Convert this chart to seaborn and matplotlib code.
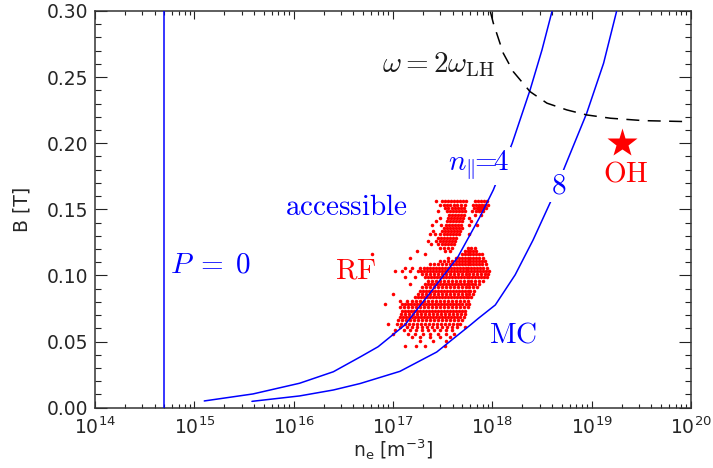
import numpy as np
import pandas as pd
import matplotlib
matplotlib.use("Agg")
import matplotlib.pyplot as plt
import seaborn as sns
from matplotlib.ticker import FixedLocator, MultipleLocator, LogLocator, NullFormatter

# ---- accessibility curves: log10(n_e [m^-3]) and B [T] ----
npar4_logn = [15.10, 15.59, 16.06, 16.40, 16.67, 16.85, 17.12, 17.37, 17.65, 17.88,
              18.01, 18.20, 18.38, 18.50, 18.60]
npar4_b = [0.0051, 0.0104, 0.0185, 0.0272, 0.0384, 0.0461, 0.0626, 0.0865, 0.1136, 0.1450,
           0.1647, 0.2000, 0.2403, 0.2706, 0.2995]

npar8_logn = [15.58, 16.06, 16.40, 16.67, 17.07, 17.44, 17.78, 17.86, 18.03, 18.23, 18.41,
              18.61, 18.73, 18.95, 19.12, 19.25]
npar8_b = [0.0048, 0.0089, 0.0134, 0.0183, 0.0275, 0.0421, 0.0626, 0.0676, 0.0777, 0.1005, 0.1268,
           0.1596, 0.1823, 0.2227, 0.2605, 0.2995]

# omega = 2 omega_LH boundary
lh_logn = [17.98, 18.01, 18.11, 18.21, 18.38, 18.55, 18.75, 18.95, 19.19, 19.52, 19.99]
lh_b = [0.2995, 0.2908, 0.2681, 0.2542, 0.2390, 0.2303, 0.2252, 0.2214, 0.2189, 0.2171, 0.2163]

# P = 0 cutoff density
p0_density = 5.0e14

# Ohmic operating point and the RF end point
oh_density, oh_b = 2.0e19, 0.200
rf_end_logn, rf_end_b = 17.89, 0.151

# ---- RF discharge samples, grouped by field value ----
rf_rows_b = [0.156, 0.1535, 0.151, 0.1485, 0.146, 0.1435, 0.141, 0.1385, 0.136, 0.1335,
             0.131, 0.1285, 0.126, 0.1235, 0.121, 0.1185, 0.116, 0.1135, 0.111, 0.1085,
             0.106, 0.1035, 0.101, 0.0985, 0.096, 0.0935, 0.091, 0.0885, 0.086, 0.0835,
             0.081, 0.0785, 0.076, 0.0735, 0.071, 0.0685, 0.066, 0.0635, 0.061, 0.0585,
             0.056, 0.0535, 0.0505, 0.047]
rf_rows_logn = [
    [17.43, 17.49, 17.52, 17.55, 17.58, 17.61, 17.64, 17.67, 17.70, 17.73, 17.83, 17.86, 17.89, 17.92, 17.95],
    [17.47, 17.51, 17.54, 17.57, 17.61, 17.64, 17.68, 17.72, 17.81, 17.84, 17.87, 17.90, 17.93, 17.96],
    [17.52, 17.55, 17.59, 17.62, 17.65, 17.68, 17.71, 17.82, 17.85, 17.88, 17.91, 17.94],
    [17.45, 17.54, 17.57, 17.60, 17.63, 17.66, 17.69, 17.72, 17.80, 17.84, 17.87, 17.91],
    [17.56, 17.59, 17.62, 17.65, 17.68, 17.71, 17.83, 17.89],
    [17.47, 17.55, 17.58, 17.61, 17.64, 17.67, 17.70, 17.77],
    [17.43, 17.54, 17.57, 17.60, 17.63, 17.66, 17.69, 17.79],
    [17.39, 17.48, 17.53, 17.56, 17.59, 17.62, 17.65, 17.68, 17.77, 17.85],
    [17.51, 17.54, 17.57, 17.60, 17.63, 17.66, 17.69],
    [17.40, 17.49, 17.52, 17.55, 17.58, 17.61, 17.64, 17.67],
    [17.37, 17.42, 17.47, 17.51, 17.54, 17.57, 17.60, 17.63, 17.66, 17.77],
    [17.45, 17.48, 17.51, 17.54, 17.57, 17.60, 17.63],
    [17.35, 17.43, 17.47, 17.50, 17.53, 17.56, 17.59, 17.62],
    [17.38, 17.45, 17.49, 17.52, 17.55, 17.58, 17.61],
    [17.47, 17.51, 17.55, 17.59, 17.75, 17.79, 17.83],
    [17.24, 17.52, 17.57, 17.72, 17.75, 17.78, 17.81, 17.84],
    [16.79, 17.32, 17.69, 17.72, 17.75, 17.78, 17.81, 17.84, 17.87, 17.90],
    [17.17, 17.55, 17.63, 17.66, 17.69, 17.72, 17.75, 17.78, 17.81, 17.84, 17.87, 17.91],
    [17.47, 17.51, 17.55, 17.59, 17.63, 17.66, 17.69, 17.72, 17.75, 17.78, 17.81, 17.84, 17.87, 17.90, 17.93],
    [17.37, 17.41, 17.45, 17.49, 17.53, 17.57, 17.60, 17.63, 17.66, 17.69, 17.72, 17.75, 17.78, 17.81,
     17.84, 17.87, 17.90, 17.94],
    [17.12, 17.19, 17.27, 17.31, 17.34, 17.37, 17.40, 17.43, 17.46, 17.49, 17.52, 17.55, 17.58, 17.61,
     17.64, 17.67, 17.70, 17.73, 17.76, 17.79, 17.82, 17.85, 17.88, 17.91, 17.95],
    [17.02, 17.09, 17.17, 17.25, 17.28, 17.31, 17.34, 17.37, 17.40, 17.43, 17.46, 17.49, 17.52, 17.55,
     17.58, 17.61, 17.64, 17.67, 17.70, 17.73, 17.76, 17.79, 17.82, 17.85, 17.88, 17.91, 17.94, 17.97],
    [17.29, 17.33, 17.37, 17.41, 17.45, 17.49, 17.53, 17.57, 17.61, 17.65, 17.69, 17.73, 17.77, 17.81,
     17.85, 17.89, 17.93, 17.96],
    [17.12, 17.22, 17.32, 17.35, 17.38, 17.41, 17.44, 17.47, 17.50, 17.53, 17.56, 17.59, 17.62, 17.65,
     17.68, 17.71, 17.74, 17.77, 17.80, 17.83, 17.86, 17.89, 17.92, 17.95],
    [17.35, 17.39, 17.43, 17.47, 17.51, 17.55, 17.59, 17.63, 17.67, 17.71, 17.75, 17.79, 17.83, 17.87, 17.91],
    [17.17, 17.32, 17.35, 17.38, 17.41, 17.44, 17.47, 17.50, 17.53, 17.56, 17.59, 17.62, 17.65, 17.68,
     17.71, 17.74, 17.77, 17.80, 17.83, 17.87],
    [17.29, 17.33, 17.37, 17.41, 17.45, 17.49, 17.53, 17.57, 17.61, 17.65, 17.69, 17.73, 17.77, 17.81, 17.85],
    [17.27, 17.30, 17.33, 17.36, 17.39, 17.42, 17.45, 17.48, 17.51, 17.54, 17.57, 17.60, 17.63, 17.66,
     17.69, 17.72, 17.75, 17.78, 17.82],
    [17.00, 17.25, 17.29, 17.33, 17.37, 17.41, 17.45, 17.49, 17.53, 17.57, 17.61, 17.65, 17.69, 17.73,
     17.77, 17.81],
    [17.22, 17.25, 17.28, 17.31, 17.34, 17.37, 17.40, 17.43, 17.46, 17.49, 17.52, 17.55, 17.58, 17.61,
     17.64, 17.67, 17.70, 17.73, 17.76, 17.79],
    [17.07, 17.14, 17.19, 17.23, 17.27, 17.31, 17.35, 17.39, 17.43, 17.47, 17.51, 17.55, 17.59, 17.63,
     17.67, 17.71, 17.75],
    [16.92, 17.09, 17.12, 17.15, 17.18, 17.21, 17.24, 17.27, 17.30, 17.33, 17.36, 17.39, 17.42, 17.45,
     17.48, 17.51, 17.54, 17.57, 17.60, 17.63, 17.66, 17.69, 17.73, 17.77],
    [17.07, 17.11, 17.15, 17.19, 17.23, 17.27, 17.31, 17.35, 17.39, 17.43, 17.47, 17.51, 17.55, 17.59,
     17.63, 17.67, 17.71, 17.75],
    [17.09, 17.12, 17.15, 17.18, 17.21, 17.24, 17.27, 17.30, 17.33, 17.36, 17.39, 17.42, 17.45, 17.48,
     17.51, 17.54, 17.57, 17.60, 17.63, 17.66, 17.69, 17.72],
    [17.08, 17.12, 17.16, 17.20, 17.24, 17.28, 17.32, 17.36, 17.40, 17.44, 17.48, 17.52, 17.56, 17.60,
     17.64, 17.68, 17.72],
    [17.07, 17.10, 17.13, 17.16, 17.19, 17.22, 17.25, 17.28, 17.31, 17.34, 17.37, 17.40, 17.43, 17.46,
     17.49, 17.52, 17.55, 17.58, 17.61, 17.64, 17.67, 17.71],
    [17.05, 17.09, 17.13, 17.17, 17.21, 17.25, 17.29, 17.33, 17.37, 17.41, 17.45, 17.49, 17.53, 17.57,
     17.61, 17.65, 17.69],
    [16.95, 17.04, 17.08, 17.12, 17.16, 17.20, 17.24, 17.28, 17.32, 17.36, 17.40, 17.44, 17.48, 17.52,
     17.56, 17.60, 17.64, 17.67],
    [17.07, 17.14, 17.19, 17.24, 17.29, 17.34, 17.39, 17.44, 17.49, 17.54, 17.59, 17.64, 17.72],
    [17.02, 17.11, 17.17, 17.23, 17.29, 17.35, 17.41, 17.47, 17.53, 17.59],
    [17.00, 17.15, 17.22, 17.30, 17.37, 17.45, 17.53, 17.61],
    [17.19, 17.27, 17.37, 17.47, 17.57],
    [17.27, 17.40, 17.53],
    [17.12, 17.23, 17.32, 17.52],
]

# x tick decades
decades = [14, 15, 16, 17, 18, 19, 20]
y_ticks = [0.00, 0.05, 0.10, 0.15, 0.20, 0.25, 0.30]

BLUE = "#0000ff"
RED = "#ff0000"

sns.set_theme(style="ticks")
plt.rcParams["font.family"] = ["DejaVu Sans"]
plt.rcParams["mathtext.fontset"] = "dejavusans"

rf = pd.DataFrame(
    [(10 ** ln, b) for b, row in zip(rf_rows_b, rf_rows_logn) for ln in row],
    columns=["ne", "B"],
)
n4 = pd.DataFrame({"ne": np.power(10.0, npar4_logn), "B": npar4_b})
n8 = pd.DataFrame({"ne": np.power(10.0, npar8_logn), "B": npar8_b})
lh = pd.DataFrame({"ne": np.power(10.0, lh_logn), "B": lh_b})

fig = plt.figure(figsize=(7.13, 4.68), dpi=100)
ax = fig.add_axes([95 / 713, 1 - 407.7 / 468, (691 - 95) / 713, (407.7 - 11) / 468])
ax.set_xscale("log")

sns.scatterplot(data=rf, x="ne", y="B", color=RED, marker="o", s=6.5,
                linewidth=0, ax=ax, zorder=2)
ax.plot([10 ** rf_end_logn], [rf_end_b], "o", color=RED, ms=6, mec="none", zorder=2)

sns.lineplot(data=n4, x="ne", y="B", sort=False, estimator=None, color=BLUE, lw=1.1, ax=ax, zorder=3)
sns.lineplot(data=n8, x="ne", y="B", sort=False, estimator=None, color=BLUE, lw=1.1, ax=ax, zorder=3)
sns.lineplot(data=lh, x="ne", y="B", sort=False, estimator=None, color="black", lw=1.1, ax=ax, zorder=3)
ax.lines[-1].set_dashes((8.5, 5.5))
ax.axvline(p0_density, color=BLUE, lw=1.1, zorder=3)

ax.plot([oh_density], [oh_b], marker="*", color=RED, ms=22, mec="none", zorder=4)

# annotations in Computer Modern
ann = dict(math_fontfamily="cm", fontsize=21)
white = dict(facecolor="white", edgecolor="none", pad=1.5)
ax.text(5.7e14, 0.108, r"$P\;=\;0$", color=BLUE, ha="left", va="center", **ann)
ax.text(10 ** 16.532, 0.1518, r"$\mathrm{accessible}$", color=BLUE, ha="center", va="center", **ann)
ax.text(10 ** 16.623, 0.1034, r"$\mathrm{RF}$", color=RED, ha="center", va="center", **ann)
ax.text(10 ** 18.213, 0.0556, r"$\mathrm{MC}$", color=BLUE, ha="center", va="center", **ann)
ax.text(10 ** 17.86, 0.183, r"$n_{\|}\!\!=\!\!4$", color=BLUE, ha="center", va="center",
        bbox=white, zorder=5, **ann)
ax.text(10 ** 18.665, 0.1677, r"$8$", color=BLUE, ha="center", va="center",
        bbox=white, zorder=5, **ann)
ax.text(10 ** 19.343, 0.1768, r"$\mathrm{OH}$", color=RED, ha="center", va="center", **ann)
ax.text(10 ** 16.89, 0.254, r"$\omega = 2\omega_{\mathrm{LH}}$", color="#1a1a1a",
        ha="left", va="baseline", **ann)

ax.set_xlim(10.0 ** decades[0], 10.0 ** decades[-1])
ax.set_ylim(y_ticks[0], y_ticks[-1])

ax.xaxis.set_major_locator(FixedLocator([10.0 ** d for d in decades]))
ax.set_xticklabels([rf"$10^{{{d}}}$" for d in decades])
ax.xaxis.set_minor_locator(LogLocator(base=10, subs=np.arange(2, 10), numticks=20))
ax.xaxis.set_minor_formatter(NullFormatter())
ax.yaxis.set_major_locator(FixedLocator(y_ticks))
ax.set_yticklabels([f"{v:.2f}" for v in y_ticks])
ax.yaxis.set_minor_locator(MultipleLocator(0.01))

ax.tick_params(which="both", direction="in", top=True, right=True, color="#222222", width=0.8)
ax.tick_params(axis="x", which="major", length=5.4, pad=6, labelsize=13.5)
ax.tick_params(axis="x", which="minor", length=3.0)
ax.tick_params(axis="y", which="major", length=8.6, pad=5, labelsize=13.5)
ax.tick_params(axis="y", which="minor", length=4.3)
for sp in ax.spines.values():
    sp.set_linewidth(1.1)
    sp.set_color("#333333")

ax.set_xlabel(r"n$_\mathrm{e}$ [m$^{-3}$]", fontsize=13.5)
ax.set_ylabel("B [T]", fontsize=13.5)
ax.xaxis.set_label_coords(0.5, -0.075)
ax.yaxis.set_label_coords(-0.106, 0.5)

fig.savefig("out.png", dpi=100)
